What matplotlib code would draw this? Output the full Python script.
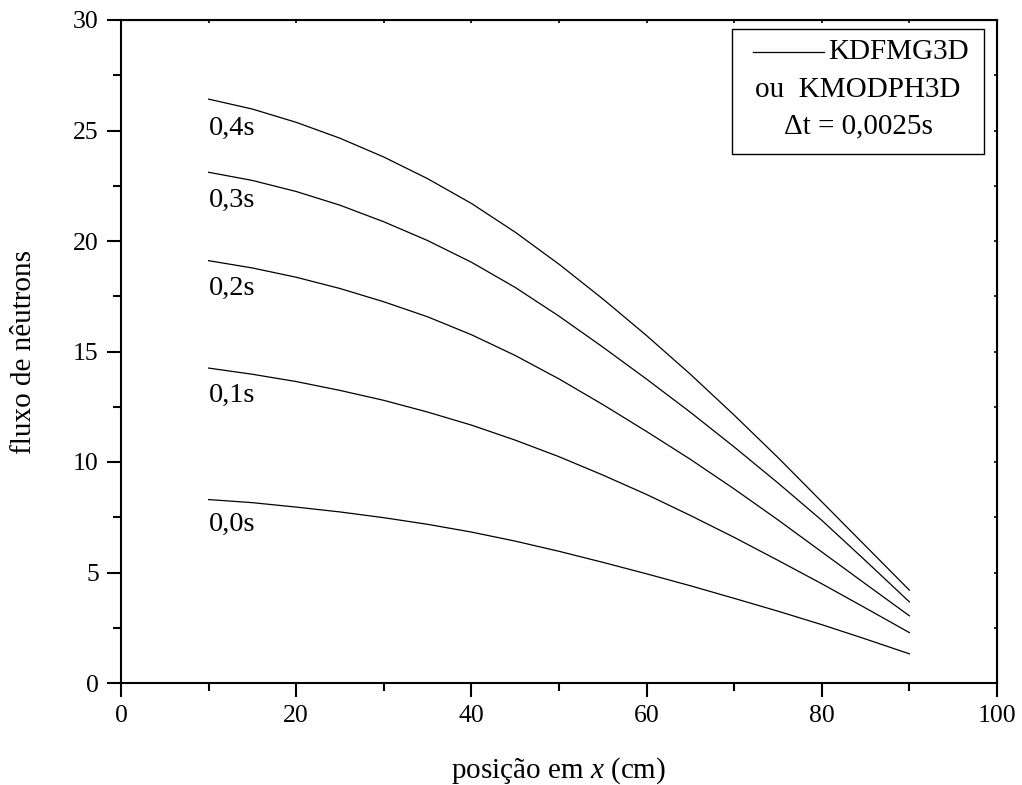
import matplotlib
matplotlib.use("Agg")
import matplotlib.pyplot as plt
from matplotlib.lines import Line2D
from matplotlib.patches import Rectangle
from matplotlib.ticker import MultipleLocator

plt.rcParams['font.family'] = ['Liberation Serif', 'DejaVu Serif']
plt.rcParams['mathtext.fontset'] = 'custom'
plt.rcParams['mathtext.rm'] = 'Liberation Serif'
plt.rcParams['mathtext.it'] = 'Liberation Serif:italic'

# position along x (cm)
posicao = [10, 15, 20, 25, 30, 35, 40, 45, 50, 55, 60, 65, 70, 75, 80, 85, 90]

# neutron flux at each time step
fluxo_00 = [8.30, 8.16, 7.96, 7.74, 7.48, 7.18, 6.83, 6.42, 5.96, 5.46, 4.94, 4.40, 3.83, 3.25, 2.64, 1.99, 1.32]
fluxo_01 = [14.25, 13.97, 13.64, 13.24, 12.79, 12.26, 11.67, 10.99, 10.24, 9.41, 8.53, 7.58, 6.59, 5.55, 4.49, 3.39, 2.28]
fluxo_02 = [19.11, 18.78, 18.36, 17.85, 17.25, 16.57, 15.76, 14.82, 13.76, 12.60, 11.38, 10.12, 8.78, 7.38, 5.93, 4.48, 3.04]
fluxo_03 = [23.11, 22.74, 22.24, 21.62, 20.87, 20.02, 19.04, 17.90, 16.60, 15.20, 13.75, 12.25, 10.68, 9.05, 7.36, 5.53, 3.67]
fluxo_04 = [26.42, 25.97, 25.37, 24.65, 23.80, 22.82, 21.70, 20.40, 18.95, 17.38, 15.72, 13.97, 12.12, 10.20, 8.20, 6.20, 4.20]

series = [fluxo_00, fluxo_01, fluxo_02, fluxo_03, fluxo_04]
rotulos = ['0,0s', '0,1s', '0,2s', '0,3s', '0,4s']
rotulo_y = [7.18, 13.01, 17.85, 21.83, 25.10]

W, H = 1022, 785
fig = plt.figure(figsize=(W / 100, H / 100), dpi=100)
ax = fig.add_axes([121 / W, 1 - 683 / H, (997 - 121) / W, (683 - 20) / H])

for ys in series:
    ax.plot(posicao, ys, color='black', lw=0.9)

for txt, yv in zip(rotulos, rotulo_y):
    ax.text(10, yv, txt, fontsize=20.5, ha='left', va='center')

ax.set_xlim(0, 100)
ax.set_ylim(0, 30)
ax.xaxis.set_major_locator(MultipleLocator(20))
ax.xaxis.set_minor_locator(MultipleLocator(10))
ax.yaxis.set_major_locator(MultipleLocator(5))
ax.yaxis.set_minor_locator(MultipleLocator(2.5))

for s in ax.spines.values():
    s.set_linewidth(1.5)

ax.tick_params(which='major', direction='out', length=10, width=1.5,
               labelsize=18.5, pad=6, top=False, right=False)
ax.tick_params(which='minor', direction='out', length=5.5, width=1.5,
               top=False, right=False)

# inward ticks on the opposite spines
axt = ax.secondary_xaxis('top')
axt.xaxis.set_major_locator(MultipleLocator(10))
axt.tick_params(which='major', direction='in', length=2.5, width=1.2, labeltop=False)
axr = ax.secondary_yaxis('right')
axr.yaxis.set_major_locator(MultipleLocator(2.5))
axr.tick_params(which='major', direction='in', length=2.5, width=1.2, labelright=False)

ax.set_xlabel(r'posição em $x$ (cm)', fontsize=21, labelpad=20)
ax.set_ylabel('fluxo de nêutrons', fontsize=21, labelpad=26)

# legend box
bx0, bx1 = (732 - 121) / 876, (984 - 121) / 876
by0, by1 = (683 - 154) / 663, (683 - 29) / 663
ax.add_patch(Rectangle((bx0, by0), bx1 - bx0, by1 - by0, transform=ax.transAxes,
                       fill=False, edgecolor='black', lw=1.0))
ly1 = (683 - 52) / 663
ax.add_line(Line2D([(753 - 121) / 876, (824 - 121) / 876], [ly1, ly1],
                   transform=ax.transAxes, color='black', lw=0.9))
ax.text((828 - 121) / 876, ly1, 'KDFMG3D', transform=ax.transAxes,
        fontsize=21, ha='left', va='center')
ax.text((bx0 + bx1) / 2, (683 - 90) / 663, 'ou  KMODPH3D', transform=ax.transAxes,
        fontsize=21, ha='center', va='center')
ax.text((bx0 + bx1) / 2, (683 - 126) / 663, 'Δt = 0,0025s', transform=ax.transAxes,
        fontsize=21, ha='center', va='center')

fig.savefig('out.png', dpi=100)
